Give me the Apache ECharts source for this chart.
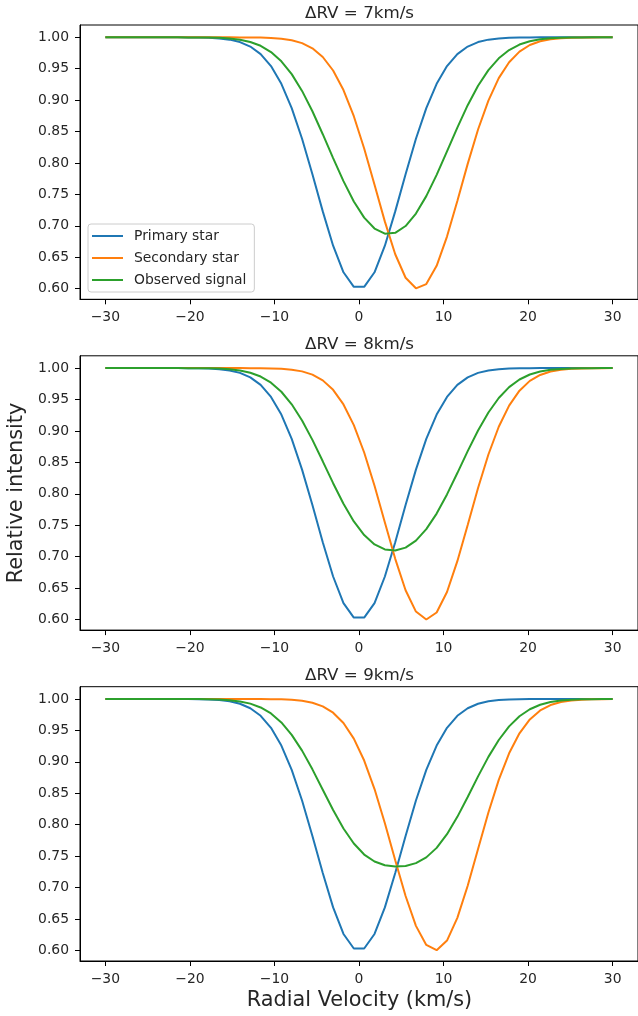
<!DOCTYPE html>
<html><head><meta charset="utf-8">
<script src="https://cdn.jsdelivr.net/npm/echarts@6/dist/echarts.min.js"></script>
<style>html,body{margin:0;padding:0;background:#fff}#c{width:638px;height:1016px}</style>
</head><body><div id="c"></div>
<script>
// Radial velocity grid (km/s)
const velocities = [-30, -28.7755, -27.5510, -26.3265, -25.1020, -23.8776, -22.6531, -21.4286, -20.2041, -18.9796,
  -17.7551, -16.5306, -15.3061, -14.0816, -12.8571, -11.6327, -10.4082, -9.1837, -7.9592, -6.7347,
  -5.5102, -4.2857, -3.0612, -1.8367, -0.6122, 0.6122, 1.8367, 3.0612, 4.2857, 5.5102,
  6.7347, 7.9592, 9.1837, 10.4082, 11.6327, 12.8571, 14.0816, 15.3061, 16.5306, 17.7551,
  18.9796, 20.2041, 21.4286, 22.6531, 23.8776, 25.1020, 26.3265, 27.5510, 28.7755, 30];

const primaryStar = [1, 1, 1, 1, 1, 1, 1, 1, 0.9999, 0.9997,
  0.9993, 0.9983, 0.9963, 0.9924, 0.9853, 0.9733, 0.9542, 0.9260, 0.8873, 0.8385,
  0.7821, 0.7230, 0.6684, 0.6261, 0.6030, 0.6030, 0.6261, 0.6684, 0.7230, 0.7821,
  0.8385, 0.8873, 0.9260, 0.9542, 0.9733, 0.9853, 0.9924, 0.9963, 0.9983, 0.9993,
  0.9997, 0.9999, 1, 1, 1, 1, 1, 1, 1, 1];

const secondaryStar7 = [1, 1, 1, 1, 1, 1, 1, 1, 1, 1,
  1, 1, 1, 0.9999, 0.9998, 0.9996, 0.9991, 0.9979, 0.9954, 0.9908,
  0.9825, 0.9687, 0.9472, 0.9161, 0.8745, 0.8231, 0.7653, 0.7067, 0.6548, 0.6174,
  0.6006, 0.6073, 0.6364, 0.6829, 0.7396, 0.7986, 0.8533, 0.8993, 0.9350, 0.9604,
  0.9773, 0.9878, 0.9938, 0.9970, 0.9987, 0.9994, 0.9998, 0.9999, 1, 1];

const observed7 = [1, 1, 1, 1, 1, 1, 1, 1, 0.9999, 0.9999,
  0.9996, 0.9992, 0.9981, 0.9962, 0.9926, 0.9865, 0.9766, 0.9619, 0.9414, 0.9147,
  0.8823, 0.8458, 0.8078, 0.7711, 0.7387, 0.7131, 0.6957, 0.6875, 0.6889, 0.6997,
  0.7195, 0.7473, 0.7812, 0.8185, 0.8564, 0.8920, 0.9229, 0.9478, 0.9666, 0.9798,
  0.9885, 0.9938, 0.9969, 0.9985, 0.9993, 0.9997, 0.9999, 1, 1, 1];

const secondaryStar8 = [1, 1, 1, 1, 1, 1, 1, 1, 1, 1,
  1, 1, 1, 1, 0.9999, 0.9998, 0.9995, 0.9989, 0.9975, 0.9948,
  0.9896, 0.9805, 0.9654, 0.9422, 0.9093, 0.8657, 0.8129, 0.7544, 0.6965, 0.6466,
  0.6126, 0.6000, 0.6111, 0.6438, 0.6928, 0.7505, 0.8091, 0.8625, 0.9067, 0.9404,
  0.9641, 0.9797, 0.9891, 0.9945, 0.9974, 0.9988, 0.9995, 0.9998, 0.9999, 1];

const observed8 = [1, 1, 1, 1, 1, 1, 1, 1, 0.9999, 0.9999,
  0.9996, 0.9992, 0.9982, 0.9962, 0.9926, 0.9866, 0.9769, 0.9624, 0.9424, 0.9167,
  0.8858, 0.8517, 0.8169, 0.7842, 0.7561, 0.7344, 0.7195, 0.7114, 0.7097, 0.7144,
  0.7256, 0.7437, 0.7685, 0.7990, 0.8330, 0.8679, 0.9008, 0.9294, 0.9525, 0.9698,
  0.9819, 0.9898, 0.9946, 0.9973, 0.9987, 0.9994, 0.9998, 0.9999, 1, 1];

const secondaryStar9 = [1, 1, 1, 1, 1, 1, 1, 1, 1, 1,
  1, 1, 1, 1, 1, 0.9999, 0.9998, 0.9995, 0.9987, 0.9972,
  0.9941, 0.9883, 0.9782, 0.9618, 0.9370, 0.9021, 0.8567, 0.8024, 0.7435, 0.6865,
  0.6390, 0.6086, 0.6003, 0.6156, 0.6518, 0.7029, 0.7613, 0.8194, 0.8713, 0.9136,
  0.9454, 0.9675, 0.9818, 0.9904, 0.9952, 0.9978, 0.9990, 0.9996, 0.9998, 0.9999];

const observed9 = [1, 1, 1, 1, 1, 1, 1, 1, 0.9999, 0.9999,
  0.9996, 0.9992, 0.9982, 0.9962, 0.9927, 0.9866, 0.9770, 0.9627, 0.9430, 0.9179,
  0.8881, 0.8556, 0.8233, 0.7940, 0.7700, 0.7525, 0.7414, 0.7354, 0.7333, 0.7343,
  0.7388, 0.7480, 0.7631, 0.7849, 0.8125, 0.8441, 0.8769, 0.9079, 0.9348, 0.9565,
  0.9726, 0.9837, 0.9909, 0.9952, 0.9976, 0.9989, 0.9995, 0.9998, 0.9999, 1];

const panelTitles = ['\u0394RV = 7km/s', '\u0394RV = 8km/s', '\u0394RV = 9km/s'];
const seriesNames = ['Primary star', 'Secondary star', 'Observed signal'];
const xTickValues = [-30, -20, -10, 0, 10, 20, 30];
const yTickValues = [0.60, 0.65, 0.70, 0.75, 0.80, 0.85, 0.90, 0.95, 1.00];
const xAxisTitle = 'Radial Velocity (km/s)';
const yAxisTitle = 'Relative intensity';

const panels = [
  [primaryStar, secondaryStar7, observed7],
  [primaryStar, secondaryStar8, observed8],
  [primaryStar, secondaryStar9, observed9]
];

const colors = ['#1f77b4', '#ff7f0e', '#2ca02c'];
const FONT = 'DejaVu Sans';
const TXT = '#262626';
const gridTops = [25, 355.8, 686.7];
const gridH = 274.3;

const chart = echarts.init(document.getElementById('c'), null, {renderer: 'canvas'});

const grids = [], xAxes = [], yAxes = [], series = [], titles = [];
gridTops.forEach((top, i) => {
  grids.push({left: 80, top: top, width: 559, height: gridH, show: true,
    borderColor: '#000', borderWidth: 1, backgroundColor: 'transparent', containLabel: false});
  xAxes.push({
    type: 'value', gridIndex: i, min: -33, max: 33,
    axisLine: {show: true, onZero: false, lineStyle: {color: '#000', width: 1}},
    axisTick: {show: true, length: 5, inside: false, lineStyle: {color: '#000', width: 1}, customValues: xTickValues},
    axisLabel: {customValues: xTickValues, margin: 11, fontSize: 13.9, fontFamily: FONT, color: TXT,
      formatter: v => String(v).replace('-', '\u2212')},
    splitLine: {show: false}
  });
  yAxes.push({
    type: 'value', gridIndex: i, min: 0.5831, max: 1.0196,
    axisLine: {show: true, onZero: false, lineStyle: {color: '#000', width: 1}},
    axisTick: {show: true, length: 5, inside: false, lineStyle: {color: '#000', width: 1}, customValues: yTickValues},
    axisLabel: {customValues: yTickValues, margin: 11, fontSize: 13.9, fontFamily: FONT, color: TXT,
      formatter: v => Number(v).toFixed(2)},
    splitLine: {show: false}
  });
  titles.push({text: panelTitles[i], left: 359.5, top: top - 19.5, textAlign: 'center', padding: 0,
    textStyle: {fontSize: 16.7, fontWeight: 'normal', fontFamily: FONT, color: TXT}});
  panels[i].forEach((arr, j) => {
    series.push({
      name: seriesNames[j], type: 'line', xAxisIndex: i, yAxisIndex: i,
      data: velocities.map((x, k) => [x, arr[k]]),
      symbol: 'none', showSymbol: false, smooth: false,
      lineStyle: {color: colors[j], width: 2}, itemStyle: {color: colors[j]},
      z: 2 + j, clip: true
    });
  });
});

chart.setOption({
  animation: false,
  backgroundColor: '#fff',
  color: colors,
  title: titles,
  grid: grids,
  xAxis: xAxes,
  yAxis: yAxes,
  legend: {
    data: seriesNames, orient: 'vertical', left: 88, top: 224,
    icon: 'rect', itemWidth: 31, itemHeight: 2, itemGap: 8,
    padding: [5, 8, 5, 4], borderColor: '#cccccc', borderWidth: 1, borderRadius: 3,
    backgroundColor: 'rgba(255,255,255,0.8)',
    textStyle: {fontSize: 13.9, fontFamily: FONT, color: TXT, lineHeight: 14, padding: [0, 0, 0, 6]}
  },
  graphic: [
    {type: 'text', x: 16.7, y: 493, rotation: Math.PI / 2,
      style: {text: yAxisTitle, fontSize: 20.8, fontFamily: FONT, fill: TXT, align: 'center', verticalAlign: 'middle'}},
    {type: 'text', x: 359.5, y: 1001,
      style: {text: xAxisTitle, fontSize: 20.8, fontFamily: FONT, fill: TXT, align: 'center', verticalAlign: 'middle'}}
  ],
  series: series
});
</script></body></html>
